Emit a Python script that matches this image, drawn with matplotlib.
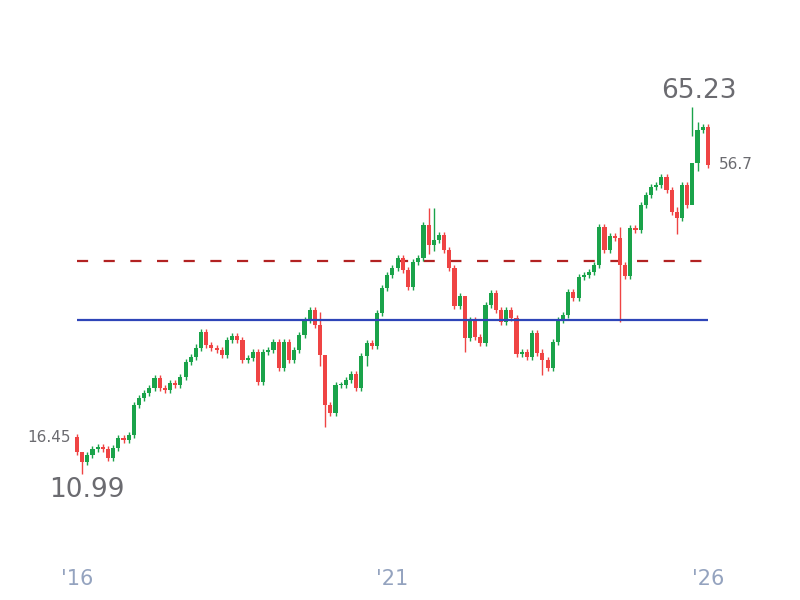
import matplotlib
matplotlib.use("Agg")
import matplotlib.pyplot as plt
import numpy as np

# ── Données (clôtures mensuelles) ───────────────────────────────────────────
FIRST_OPEN = 16.45
CLOSES = [
    14.23, 12.75, 13.79, 14.68, 14.97, 14.68, 13.35, 14.83, 16.31, 16.01, 16.75, 21.18,
    22.22, 22.96, 23.70, 25.18, 23.70, 23.40, 24.44, 24.14, 25.33, 27.55, 28.29, 29.67,
    31.98, 30.06, 29.61, 29.31, 28.57, 30.79, 31.38, 30.79, 27.84, 28.13, 29.02, 24.59,
    29.02, 29.31, 30.50, 26.65, 30.50, 27.84, 29.31, 31.53, 33.75, 35.23, 33.01, 28.58,
    21.19, 20.00, 24.14, 24.14, 24.88, 25.77, 23.70, 28.43, 30.35, 29.90, 34.78, 38.48,
    40.40, 41.44, 42.91, 41.14, 38.63, 42.32, 42.91, 47.79, 44.83, 45.57, 46.31, 44.09,
    41.43, 35.82, 37.30, 31.09, 33.75, 31.24, 30.35, 35.97, 37.74, 35.23, 33.45, 35.23,
    34.05, 28.72, 29.02, 28.28, 31.83, 28.87, 27.84, 26.65, 30.50, 33.75, 34.49, 37.89,
    37.00, 40.10, 40.40, 40.84, 41.88, 47.49, 44.09, 46.16, 45.87, 41.88, 40.25, 47.35,
    47.05, 50.75, 52.22, 53.41, 53.70, 54.88, 52.96, 49.71, 48.82, 53.70, 50.75, 56.95,
    61.83, 62.27, 56.70,
]
# mèches remarquables (index -> (haut, bas)); sinon mèche courte
WICKS = {1: (13.9, 10.99), 48: (28.6, 17.9), 75: (34.0, 29.0), 90: (29.5, 25.6),
         105: (47.5, 33.5), 68: (50.3, 43.5), 69: (50.3, 44.0), 119: (65.23, 60.9),
         120: (63.0, 55.8), 116: (50.4, 46.5), 47: (35.0, 27.0), 56: (30.8, 27.0)}
DEFAULT_WICK = 0.5

BLUE_LEVEL = 33.74
RED_LEVEL = 42.47
X_TICKS = [2016, 2021, 2026]
X_LABELS = ["'16", "'21", "'26"]

UP, DOWN = "#1aa34a", "#ef4444"

opens = [FIRST_OPEN] + CLOSES[:-1]
dates = np.linspace(2016, 2026, len(CLOSES))

fig = plt.figure(figsize=(8, 6), dpi=100)
ax = fig.add_axes([0, 0, 1, 1])
ax.set_xlim(2014.78, 2027.46)
ax.set_ylim(-7.64, 81.05)
ax.axis("off")

w = 0.065
for i, (t, o, c) in enumerate(zip(dates, opens, CLOSES)):
    col = UP if c >= o else DOWN
    hi, lo = WICKS.get(i, (max(o, c) + DEFAULT_WICK, min(o, c) - DEFAULT_WICK))
    ax.vlines(t, lo, hi, color=col, lw=1, zorder=2)
    ax.bar(t, max(abs(c - o), 0.15), bottom=min(o, c), width=w, color=col, zorder=3)

ax.hlines(BLUE_LEVEL, 2016, 2026, color="#2e45b8", lw=1.6, zorder=4)
ax.hlines(RED_LEVEL, 2016, 2026, color="#b22222", lw=1.6, linestyles=(0, (5, 7)), zorder=1)

gray = "#6b6b70"
ax.text(2026.45, 65.23 + 2.4, "65.23", fontsize=19, color=gray, ha="right", va="center")
ax.text(2016.15, 10.99 - 2.4, "10.99", fontsize=19, color=gray, ha="center", va="center")
ax.text(2015.9, FIRST_OPEN, "16.45", fontsize=11, color=gray, ha="right", va="center")
ax.text(2026.18, CLOSES[-1], "56.7", fontsize=11, color=gray, ha="left", va="center")

for t, lab in zip(X_TICKS, X_LABELS):
    ax.text(t, -4.5, lab, fontsize=15, color="#94a3bf", ha="center", va="center")

fig.savefig("out.png", dpi=100)
